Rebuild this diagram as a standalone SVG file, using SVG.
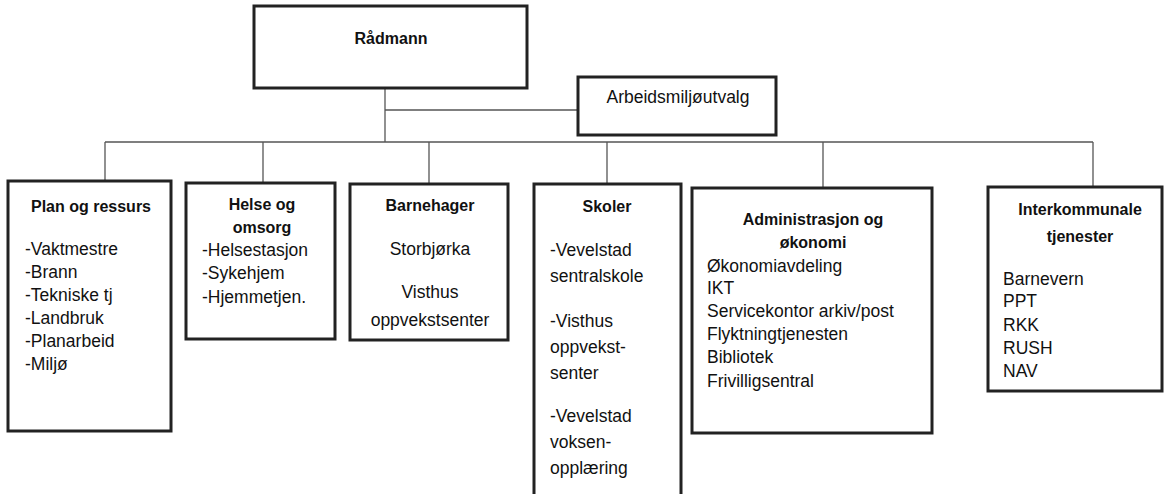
<svg xmlns="http://www.w3.org/2000/svg" width="1164" height="494" viewBox="0 0 1164 494">
<style>
.box{fill:#fff;stroke:#222;stroke-width:3}
.con{stroke:#555;stroke-width:1.3;fill:none}
.h{font-family:"Liberation Sans",Arial,sans-serif;font-weight:bold;font-size:16px;fill:#111;text-anchor:middle}
.t{font-family:"Liberation Sans",Arial,sans-serif;font-size:17.5px;fill:#111}
.c{text-anchor:middle}
</style>
<rect width="1164" height="494" fill="#fff"/>
<g id="connectors">
<line class="con" x1="385" y1="88" x2="385" y2="142"/>
<line class="con" x1="385" y1="110" x2="578" y2="110"/>
<line class="con" x1="105" y1="142" x2="1093" y2="142"/>
<line class="con" x1="105" y1="142" x2="105" y2="181"/>
<line class="con" x1="263" y1="142" x2="263" y2="183"/>
<line class="con" x1="429" y1="142" x2="429" y2="184"/>
<line class="con" x1="607" y1="142" x2="607" y2="184"/>
<line class="con" x1="823" y1="142" x2="823" y2="188"/>
<line class="con" x1="1093" y1="142" x2="1093" y2="187"/>
</g>
<g id="radmann">
<rect class="box" x="254" y="6" width="273" height="82"/>
<text class="h" x="391" y="44">Rådmann</text>
</g>
<g id="amu">
<rect class="box" x="578" y="77" width="198" height="58"/>
<text class="t c" x="678" y="103">Arbeidsmiljøutvalg</text>
</g>
<g id="plan">
<rect class="box" x="8" y="181" width="163" height="250"/>
<text class="h" x="91" y="212">Plan og ressurs</text>
<text class="t" x="25" y="255">-Vaktmestre</text>
<text class="t" x="25" y="278">-Brann</text>
<text class="t" x="25" y="301">-Tekniske tj</text>
<text class="t" x="25" y="324">-Landbruk</text>
<text class="t" x="25" y="347">-Planarbeid</text>
<text class="t" x="25" y="370">-Miljø</text>
</g>
<g id="helse">
<rect class="box" x="186" y="183" width="149" height="156"/>
<text class="h" x="262" y="210">Helse og</text>
<text class="h" x="262" y="233">omsorg</text>
<text class="t" x="202" y="256">-Helsestasjon</text>
<text class="t" x="202" y="279">-Sykehjem</text>
<text class="t" x="202" y="303">-Hjemmetjen.</text>
</g>
<g id="barnehager">
<rect class="box" x="350" y="184" width="158" height="156"/>
<text class="h" x="430" y="211">Barnehager</text>
<text class="t c" x="430" y="255">Storbjørka</text>
<text class="t c" x="430" y="298">Visthus</text>
<text class="t c" x="430" y="326">oppvekstsenter</text>
</g>
<g id="skoler">
<rect class="box" x="534" y="184" width="147" height="315"/>
<text class="h" x="607" y="212">Skoler</text>
<text class="t" x="550" y="256">-Vevelstad</text>
<text class="t" x="550" y="282">sentralskole</text>
<text class="t" x="550" y="327">-Visthus</text>
<text class="t" x="550" y="353">oppvekst-</text>
<text class="t" x="550" y="379">senter</text>
<text class="t" x="550" y="422">-Vevelstad</text>
<text class="t" x="550" y="448">voksen-</text>
<text class="t" x="550" y="474">opplæring</text>
</g>
<g id="administrasjon">
<rect class="box" x="692" y="188" width="240" height="245"/>
<text class="h" x="813" y="225">Administrasjon og</text>
<text class="h" x="813" y="248">økonomi</text>
<text class="t" x="707" y="272">Økonomiavdeling</text>
<text class="t" x="707" y="294">IKT</text>
<text class="t" x="707" y="317">Servicekontor arkiv/post</text>
<text class="t" x="707" y="340">Flyktningtjenesten</text>
<text class="t" x="707" y="363">Bibliotek</text>
<text class="t" x="707" y="387">Frivilligsentral</text>
</g>
<g id="interkommunale">
<rect class="box" x="988" y="187" width="174" height="204"/>
<text class="h" x="1080" y="215">Interkommunale</text>
<text class="h" x="1080" y="242">tjenester</text>
<text class="t" x="1003" y="285">Barnevern</text>
<text class="t" x="1003" y="307">PPT</text>
<text class="t" x="1003" y="331">RKK</text>
<text class="t" x="1003" y="354">RUSH</text>
<text class="t" x="1003" y="377">NAV</text>
</g>
</svg>
